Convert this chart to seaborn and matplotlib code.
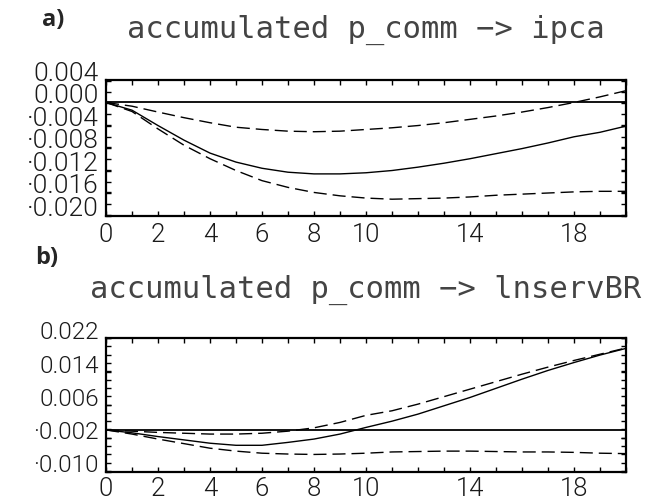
import numpy as np
import pandas as pd
import matplotlib
matplotlib.use("Agg")
import matplotlib.pyplot as plt
from matplotlib import font_manager
from matplotlib.ticker import FixedLocator, FixedFormatter
import seaborn as sns

# ---------------- data ----------------
horizon = list(range(21))

ipca_mid = [0.0, -0.00137, -0.0041, -0.0067, -0.0090, -0.0106, -0.0117, -0.0124, -0.0127, -0.0127,
            -0.0125, -0.0121, -0.0115, -0.0108, -0.0100, -0.0091, -0.0082, -0.0072, -0.0061, -0.0053, -0.0042]
ipca_up = [0.0, -0.00066, -0.0017, -0.0027, -0.0036, -0.0044, -0.0048, -0.0051, -0.0052, -0.0051,
           -0.0048, -0.0045, -0.0041, -0.0036, -0.0030, -0.0024, -0.0017, -0.0009, 0.0, 0.0010, 0.0021]
ipca_lo = [0.0, -0.0016, -0.0047, -0.0076, -0.0100, -0.0121, -0.0139, -0.0151, -0.0160, -0.0166,
           -0.0170, -0.0172, -0.0171, -0.0170, -0.0168, -0.0165, -0.0163, -0.0161, -0.0159, -0.0158, -0.0158]

serv_mid = [0.0, -0.0007, -0.0016, -0.0024, -0.0032, -0.0037, -0.0037, -0.0030, -0.0022, -0.0010,
            0.0006, 0.0021, 0.0038, 0.0058, 0.0078, 0.0100, 0.0122, 0.0143, 0.0162, 0.0180, 0.0196]
serv_up = [0.0, -0.0003, -0.0006, -0.0008, -0.0010, -0.0010, -0.0008, -0.0003, 0.0005, 0.0018,
           0.0035, 0.0046, 0.0062, 0.0080, 0.0098, 0.0116, 0.0134, 0.0151, 0.0167, 0.0182, 0.0197]
serv_lo = [0.0, -0.0010, -0.0022, -0.0033, -0.0044, -0.0051, -0.0056, -0.0058, -0.0059, -0.0058,
           -0.0056, -0.0053, -0.0052, -0.0051, -0.0051, -0.0052, -0.0053, -0.0053, -0.0054, -0.0056, -0.0057]

x_tick_labels = ["0", "2", "4", "6", "8", "10", "14", "18"]
ipca_yticks = [0.004, 0.000, -0.004, -0.008, -0.012, -0.016, -0.020]
serv_yticks = [0.022, 0.014, 0.006, -0.002, -0.010]

panel_letters = ["a)", "b)"]
titles = ["accumulated p_comm \u2212> ipca", "accumulated p_comm \u2212> lnservBR"]

# ---------------- style ----------------
sns.set_style("ticks")
mono = ["DejaVu Sans Mono", "DejaVu Sans"]
plt.rcParams["font.family"] = mono

# choose a thin font for the tick numbers if one is installed
light_font = None
avail = {}
for f in font_manager.fontManager.ttflist:
    avail.setdefault(f.name, set()).add(f.weight if isinstance(f.weight, int) else 400)
for fam in ["Roboto", "Lato", "Open Sans", "Noto Sans", "Inter", "DejaVu Sans"]:
    ws = [w for w in avail.get(fam, set()) if isinstance(w, int) and w <= 300]
    if ws:
        light_font = font_manager.FontProperties(family=fam, weight=max(ws))
        break
if light_font is None:
    light_font = font_manager.FontProperties(family="DejaVu Sans Mono")

fig = plt.figure(figsize=(6.66, 5.02), dpi=100)
ax_a = fig.add_axes([106/666, 1-216.5/502, 520/666, 135.5/502])
ax_b = fig.add_axes([106/666, 1-472.5/502, 520/666, 133.5/502])


def label_fmt(v):
    s = f"{abs(v):.3f}"
    return ("\u00b7" + s) if v < -1e-12 else s


def draw(ax, mid, up, lo, ylim, yticks, ylab_size, xpad):
    df = pd.DataFrame({"h": horizon, "mid": mid, "up": up, "lo": lo})
    ax.axhline(0, color="black", lw=1.3, zorder=1)
    sns.lineplot(data=df, x="h", y="mid", ax=ax, color="black", lw=1.0)
    for col in ["up", "lo"]:
        sns.lineplot(data=df, x="h", y=col, ax=ax, color="black", lw=1.0,
                     dashes=False).lines[-1].set_dashes((9.4, 4.3))
    ax.set_xlim(0, 20)
    ax.set_ylim(*ylim)
    ax.set_xlabel("")
    ax.set_ylabel("")
    ax.xaxis.set_major_locator(FixedLocator(horizon))
    ax.xaxis.set_major_formatter(FixedFormatter(
        [str(h) if str(h) in x_tick_labels else "" for h in horizon]))
    ax.set_yticks(yticks)
    ax.set_yticklabels([label_fmt(v) for v in yticks])
    ax.yaxis.set_minor_locator(FixedLocator(np.arange(ylim[0], ylim[1] + 1e-9, 0.002)))
    ax.tick_params(axis="both", which="both", direction="in", top=True, right=True,
                   length=3.5, width=1.0, color="black")
    ax.tick_params(axis="x", pad=xpad)
    ax.tick_params(axis="y", pad=5)
    for lab in ax.get_xticklabels():
        lab.set_fontproperties(light_font)
        lab.set_fontsize(18.5)
        lab.set_color("#1a1a1a")
    for lab in ax.get_yticklabels():
        lab.set_fontproperties(light_font)
        lab.set_fontsize(ylab_size)
        lab.set_color("#1a1a1a")
        lab.set_verticalalignment("baseline")
    for sp in ax.spines.values():
        sp.set_linewidth(1.6)
        sp.set_color("black")


draw(ax_a, ipca_mid, ipca_up, ipca_lo, (-0.0201, 0.0040), ipca_yticks, 19, 5)
draw(ax_b, serv_mid, serv_up, serv_lo, (-0.0099, 0.0221), serv_yticks, 17.5, 3.5)

fig.text(42/666, 1-20/502, panel_letters[0], fontsize=17, fontweight="bold",
         family=["Open Sans", "DejaVu Sans"], va="center", ha="left")
fig.text(35/666, 1-258/502, panel_letters[1], fontsize=17, fontweight="bold",
         family=["Open Sans", "DejaVu Sans"], va="center", ha="left")
fig.text(366/666, 1-38/502, titles[0], fontsize=22, ha="center", va="baseline",
         color="#444444")
fig.text(366/666, 1-298/502, titles[1], fontsize=22, ha="center", va="baseline",
         color="#444444")

fig.savefig("out.png", dpi=100)
